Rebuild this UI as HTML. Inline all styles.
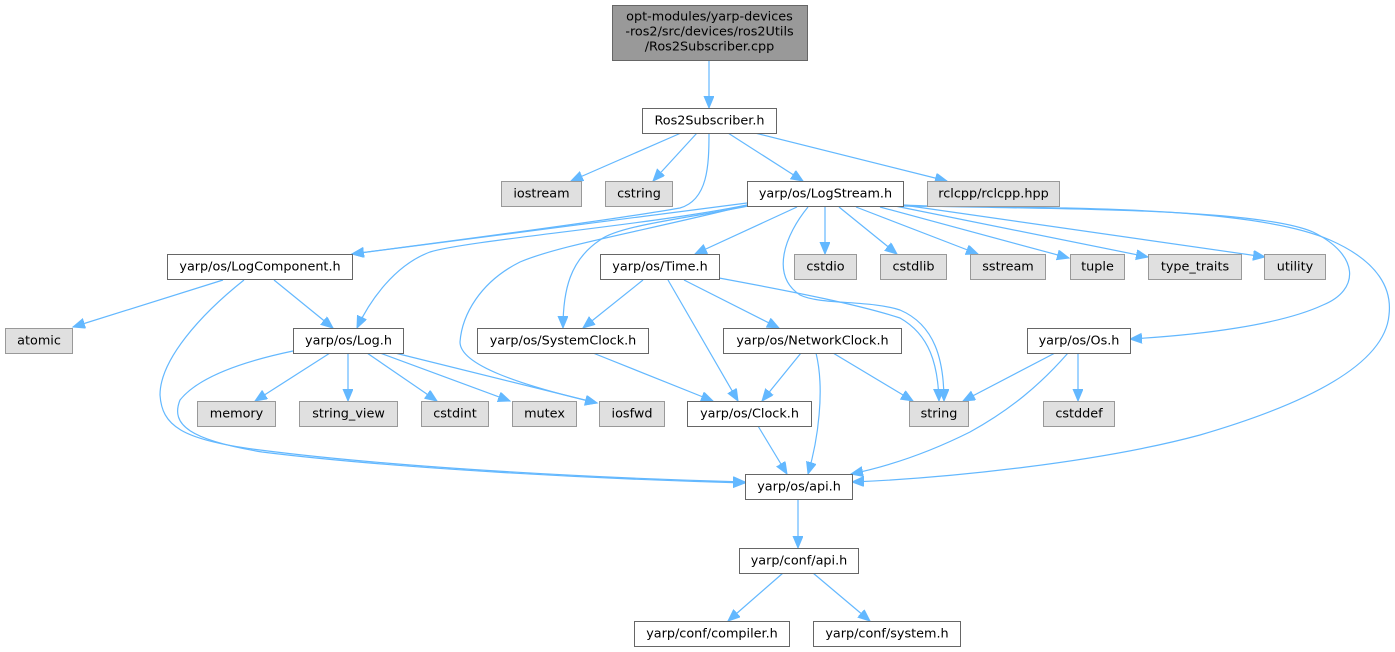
<!DOCTYPE html>
<html><head><meta charset="utf-8"><style>
html,body{margin:0;padding:0;background:#fff;}
svg{display:block;}
text{font-family:"DejaVu Sans","Liberation Sans",sans-serif;font-size:12.8px;fill:#000;text-anchor:middle;}
.w{fill:#fff;stroke:#666;stroke-width:1;}
.g{fill:#e0e0e0;stroke:#999;stroke-width:1;}
.e{fill:none;stroke:#63b8ff;stroke-width:1.2;marker-end:url(#ah);}
</style></head><body>
<svg width="1395" height="652" viewBox="0 0 1395 652" xmlns="http://www.w3.org/2000/svg">
<defs><marker id="ah" markerUnits="userSpaceOnUse" markerWidth="14" markerHeight="12" refX="12" refY="5" orient="auto"><path d="M0,0 L12,5 L0,10 Z" fill="#63b8ff" stroke="#63b8ff" stroke-width="1"/></marker></defs>

<!-- edges -->
<path class="e" d="M709,60 L709,108"/>
<path class="e" d="M681,133 L571,181"/>
<path class="e" d="M697,133 L653,181"/>
<path class="e" d="M728,133 L803,181"/>
<path class="e" d="M755,133 L947,181"/>
<path class="e" d="M709,133 C709,165 708,200 680,208 C600,222 420,245 352,254"/>
<path class="e" d="M747,203 L352,254"/>
<path class="e" d="M747,205 C650,225 470,240 430,252 C395,265 370,300 357,328"/>
<path class="e" d="M797,207 L695,254"/>
<path class="e" d="M748,206 C690,218 620,225 600,240 C570,260 563,290 563,328"/>
<path class="e" d="M748,205 C640,232 560,245 520,262 C480,282 462,315 460,342 C460,365 520,385 597,403"/>
<path class="e" d="M808,207 C785,235 770,275 800,295 C820,305 870,300 900,310 C935,325 944,360 944,401"/>
<path class="e" d="M825,207 L825,254"/>
<path class="e" d="M839,207 L897,254"/>
<path class="e" d="M856,207 L978,254"/>
<path class="e" d="M880,207 L1069,258"/>
<path class="e" d="M895,206 L1148,257"/>
<path class="e" d="M903,205 L1265,257"/>
<path class="e" d="M903,205 C1000,210 1250,205 1313,232 C1360,255 1360,290 1323,305 C1280,325 1200,335 1130,339"/>
<path class="e" d="M903,206 C1050,208 1250,205 1330,240 C1380,262 1392,290 1389,315 C1385,360 1320,400 1200,435 C1100,462 950,478 852,482"/>
<path class="e" d="M223,280 L73,327"/>
<path class="e" d="M274,280 L333,328"/>
<path class="e" d="M244,280 C200,315 160,360 160,395 C162,425 180,440 260,450 C400,468 600,478 745,482"/>
<path class="e" d="M293,351 C250,360 200,375 180,400 C170,425 190,440 262,452 C400,469 600,479 745,483"/>
<path class="e" d="M330,353 L255,401"/>
<path class="e" d="M348,353 L348,401"/>
<path class="e" d="M367,353 L437,401"/>
<path class="e" d="M380,353 L510,401"/>
<path class="e" d="M395,353 L597,403"/>
<path class="e" d="M643,280 L583,328"/>
<path class="e" d="M668,280 L738,401"/>
<path class="e" d="M684,280 L779,328"/>
<path class="e" d="M719,278 C800,293 860,305 900,318 C930,335 938,365 939,401"/>
<path class="e" d="M593,353 L713,401"/>
<path class="e" d="M801,353 L762,401"/>
<path class="e" d="M833,353 L913,401"/>
<path class="e" d="M816,353 C825,390 818,440 808,474"/>
<path class="e" d="M1055,353 L963,401"/>
<path class="e" d="M1078,353 L1078,401"/>
<path class="e" d="M1068,353 C1040,385 1010,410 970,432 C930,452 890,466 851,474"/>
<path class="e" d="M758,426 L787,474"/>
<path class="e" d="M798,500 L798,548"/>
<path class="e" d="M783,573 L728,621"/>
<path class="e" d="M813,573 L870,621"/>

<!-- nodes -->
<rect x="612.5" y="5.5" width="195" height="55" fill="#999999" stroke="#666666"/>
<text x="709.5" y="20.5">opt-modules/yarp-devices</text>
<text x="709.5" y="35.5">-ros2/src/devices/ros2Utils</text>
<text x="709.5" y="50.5">/Ros2Subscriber.cpp</text>

<rect class="w" x="642.5" y="108.5" width="134" height="25"/><text x="709.5" y="124.5">Ros2Subscriber.h</text>

<rect class="g" x="501.5" y="181.5" width="80" height="25"/><text x="541.5" y="197.5">iostream</text>
<rect class="g" x="605.5" y="181.5" width="67" height="25"/><text x="639" y="197.5">cstring</text>
<rect class="w" x="747.5" y="181.5" width="156" height="25"/><text x="825.5" y="197.5">yarp/os/LogStream.h</text>
<rect class="g" x="927.5" y="181.5" width="132" height="25"/><text x="993.5" y="197.5">rclcpp/rclcpp.hpp</text>

<rect class="w" x="167.5" y="254.5" width="185" height="25"/><text x="260" y="270.5">yarp/os/LogComponent.h</text>
<rect class="w" x="600.5" y="254.5" width="119" height="25"/><text x="660" y="270.5">yarp/os/Time.h</text>
<rect class="g" x="794.5" y="254.5" width="62" height="25"/><text x="825.5" y="270.5">cstdio</text>
<rect class="g" x="880.5" y="254.5" width="66" height="25"/><text x="913.5" y="270.5">cstdlib</text>
<rect class="g" x="970.5" y="254.5" width="75" height="25"/><text x="1008" y="270.5">sstream</text>
<rect class="g" x="1070.5" y="254.5" width="54" height="25"/><text x="1097.5" y="270.5">tuple</text>
<rect class="g" x="1148.5" y="254.5" width="93" height="25"/><text x="1195" y="270.5">type_traits</text>
<rect class="g" x="1264.5" y="254.5" width="61" height="25"/><text x="1295" y="270.5">utility</text>

<rect class="g" x="5.5" y="328.5" width="67" height="25"/><text x="39" y="344.5">atomic</text>
<rect class="w" x="293.5" y="328.5" width="110" height="25"/><text x="348.5" y="344.5">yarp/os/Log.h</text>
<rect class="w" x="477.5" y="328.5" width="171" height="25"/><text x="563" y="344.5">yarp/os/SystemClock.h</text>
<rect class="w" x="723.5" y="328.5" width="178" height="25"/><text x="812.5" y="344.5">yarp/os/NetworkClock.h</text>
<rect class="w" x="1027.5" y="328.5" width="103" height="25"/><text x="1079" y="344.5">yarp/os/Os.h</text>

<rect class="g" x="197.5" y="401.5" width="78" height="25"/><text x="236.5" y="417.5">memory</text>
<rect class="g" x="299.5" y="401.5" width="98" height="25"/><text x="348.5" y="417.5">string_view</text>
<rect class="g" x="421.5" y="401.5" width="67" height="25"/><text x="455" y="417.5">cstdint</text>
<rect class="g" x="512.5" y="401.5" width="64" height="25"/><text x="544.5" y="417.5">mutex</text>
<rect class="g" x="599.5" y="401.5" width="65" height="25"/><text x="632" y="417.5">iosfwd</text>
<rect class="w" x="687.5" y="401.5" width="124" height="25"/><text x="749.5" y="417.5">yarp/os/Clock.h</text>
<rect class="g" x="909.5" y="401.5" width="59" height="25"/><text x="939" y="417.5">string</text>
<rect class="g" x="1043.5" y="401.5" width="71" height="25"/><text x="1079" y="417.5">cstddef</text>

<rect class="w" x="745.5" y="474.5" width="107" height="25"/><text x="799" y="490.5">yarp/os/api.h</text>
<rect class="w" x="739.5" y="548.5" width="119" height="25"/><text x="799" y="564.5">yarp/conf/api.h</text>
<rect class="w" x="634.5" y="621.5" width="155" height="25"/><text x="712" y="637.5">yarp/conf/compiler.h</text>
<rect class="w" x="813.5" y="621.5" width="147" height="25"/><text x="887" y="637.5">yarp/conf/system.h</text>
</svg>
</body></html>
